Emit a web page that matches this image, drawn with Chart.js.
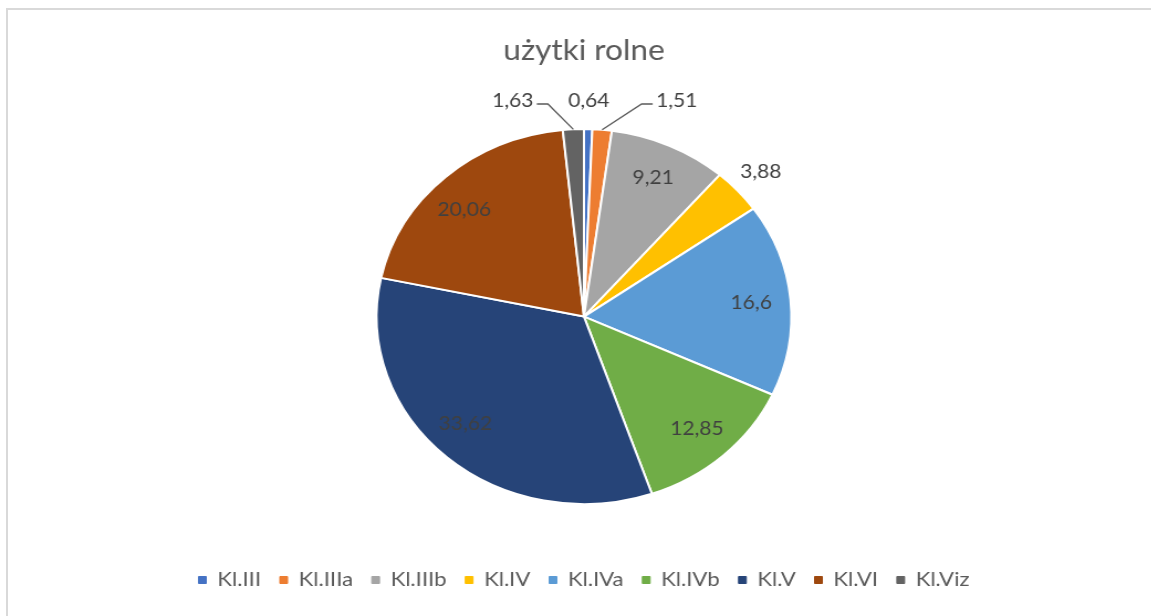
<!DOCTYPE html>
<html><head><meta charset="utf-8">
<script src="https://cdn.jsdelivr.net/npm/chart.js@4/dist/chart.umd.min.js"></script>
<style>
html,body{margin:0;padding:0;background:#fff;overflow:hidden;width:1151px;height:616px;}
#wrap{position:absolute;left:0;top:0;width:1056px;height:616px;transform:scaleX(1.106);transform-origin:0 0;}
#frame{position:absolute;left:6px;top:8px;width:2000px;height:2000px;border-left:2px solid #d9d9d9;border-top:2px solid #d9d9d9;pointer-events:none;}
</style></head><body>
<div id="wrap"><canvas id="c"></canvas></div>
<div id="frame"></div>
<script>
const categories = ['Kl.III','Kl.IIIa','Kl.IIIb','Kl.IV','Kl.IVa','Kl.IVb','Kl.V','Kl.VI','Kl.Viz'];
const values = [0.64, 1.51, 9.21, 3.88, 16.6, 12.85, 33.62, 20.06, 1.63];
const colors = ['#4472C4','#ED7D31','#A5A5A5','#FFC000','#5B9BD5','#70AD47','#264478','#9E480E','#636363'];
const chartTitle = 'użytki rolne';

const sliceLabels = {
  id: 'sliceLabels',
  afterDatasetsDraw(chart, args, opts) {
    const ctx = chart.ctx;
    const meta = chart.getDatasetMeta(0);
    const data = chart.data.datasets[0].data;
    ctx.save();
    ctx.font = opts.font;
    ctx.fillStyle = opts.color;
    ctx.textBaseline = 'middle';
    meta.data.forEach((el, i) => {
      const p = el.getProps(['x','y','startAngle','endAngle','outerRadius'], true);
      const mid = (p.startAngle + p.endAngle) / 2 + (opts.angleNudge[i] || 0) * Math.PI / 180;
      const r = p.outerRadius;
      const txt = String(data[i]).replace('.', ',');
      const mode = opts.mode[i];
      if (mode === 'in' || mode === 'out') {
        const f = mode === 'in' ? opts.inside : opts.outside;
        ctx.textAlign = 'center';
        ctx.fillText(txt, p.x + Math.cos(mid) * f * r, p.y + Math.sin(mid) * f * r);
      } else {
        const e = opts.elbow[i];
        const sx = p.x + Math.cos(mid) * r, sy = p.y + Math.sin(mid) * r;
        const ex = p.x + e[0] * r, ey = p.y + e[1] * r;
        const dir = e[0] >= 0 ? 1 : -1;
        const lx = ex + dir * opts.leaderLen;
        ctx.strokeStyle = opts.lineColor;
        ctx.lineWidth = 1.3;
        ctx.beginPath();
        ctx.moveTo(sx, sy); ctx.lineTo(ex, ey); ctx.lineTo(lx, ey);
        ctx.stroke();
        ctx.textAlign = dir > 0 ? 'left' : 'right';
        ctx.fillText(txt, lx + dir * opts.gap, ey + opts.textDy);
      }
    });
    ctx.restore();
  }
};

new Chart(document.getElementById('c'), {
  type: 'pie',
  data: {
    labels: categories,
    datasets: [{
      data: values,
      backgroundColor: colors,
      borderColor: '#ffffff',
      borderWidth: 2,
      radius: 187.5
    }]
  },
  options: {
    responsive: true,
    maintainAspectRatio: false,
    animation: false,
    devicePixelRatio: 1,
    layout: { padding: { top: 0, bottom: 16, left: 10, right: 10 } },
    plugins: {
      title: {
        display: true,
        text: chartTitle,
        color: '#595959',
        font: { family: 'Lato', size: 28.5, weight: 'normal', lineHeight: 1.2 },
        padding: { top: 34, bottom: 12 }
      },
      legend: {
        position: 'bottom',
        labels: {
          color: '#595959',
          font: { family: 'Lato', size: 20 },
          boxWidth: 7,
          boxHeight: 7,
          padding: 17,
          generateLabels(chart) {
            const items = Chart.overrides.pie.plugins.legend.labels.generateLabels(chart);
            items.forEach(it => { it.strokeStyle = it.fillStyle; it.lineWidth = 1; });
            return items;
          }
        }
      },
      tooltip: { enabled: false },
      sliceLabels: {
        font: '19px Lato',
        color: '#404040',
        lineColor: '#595959',
        inside: 0.81,
        outside: 1.15,
        mode: ['out','leader','in','out','in','in','in','in','leader'],
        angleNudge: { 6: 3.5, 7: -3.5 },
        elbow: { 1: [0.278, -1.134], 8: [-0.174, -1.134] },
        leaderLen: 10,
        gap: 3,
        textDy: -3.3
      }
    }
  },
  plugins: [sliceLabels]
});
</script>
</body></html>
